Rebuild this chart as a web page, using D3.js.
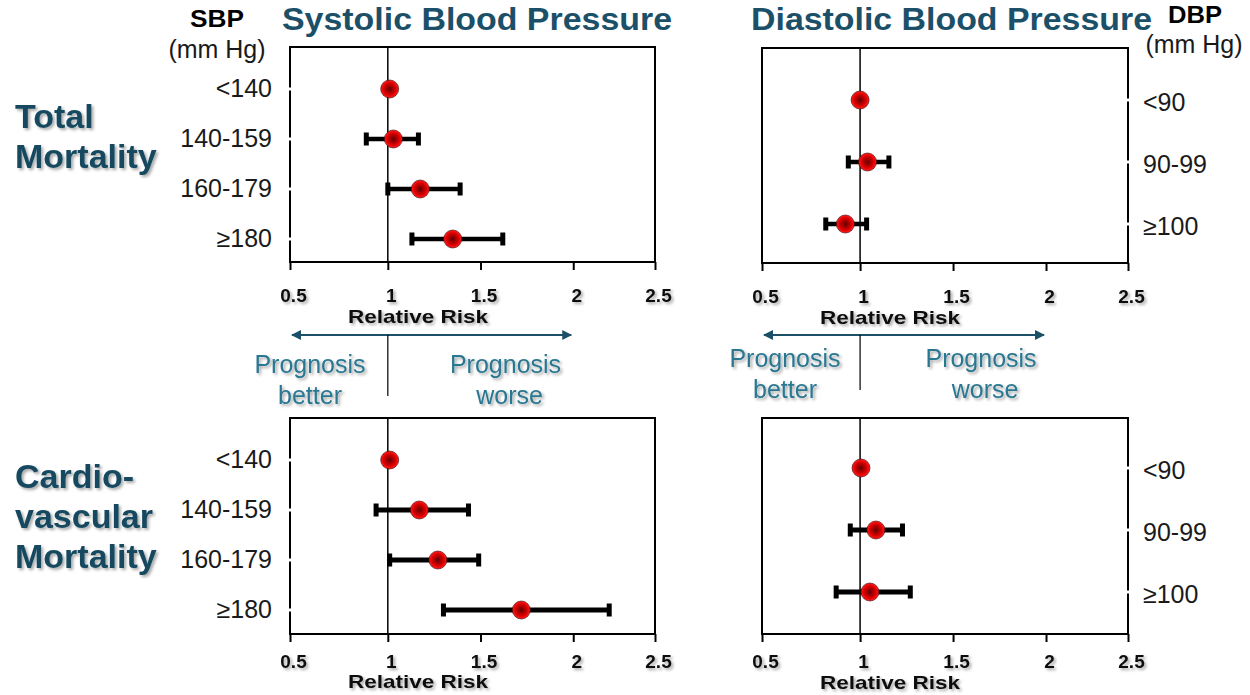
<!DOCTYPE html>
<html>
<head>
<meta charset="utf-8">
<script src="https://cdn.jsdelivr.net/npm/d3@7"></script>
<style>
  body { margin: 0; background: #fff; }
  text { font-family: "Liberation Sans", Arial, sans-serif; }
</style>
</head>
<body>
<div id="chart"></div>
<script>
// categories and tick labels
const sbpGroups = ["<140", "140-159", "160-179", "≥180"];
const dbpGroups = ["<90", "90-99", "≥100"];
const riskTicks = [0.5, 1, 1.5, 2, 2.5];

// relative risk with 95% CI (reference group has no interval)
const sbpTotalRR = [1.01, 1.03, 1.175, 1.35];
const sbpTotalLow = [null, 0.89, 1.0, 1.13];
const sbpTotalHigh = [null, 1.165, 1.39, 1.62];

const dbpTotalRR = [1.0, 1.04, 0.925];
const dbpTotalLow = [null, 0.94, 0.825];
const dbpTotalHigh = [null, 1.155, 1.035];

const sbpCvRR = [1.01, 1.17, 1.27, 1.72];
const sbpCvLow = [null, 0.94, 1.01, 1.30];
const sbpCvHigh = [null, 1.435, 1.49, 2.22];

const dbpCvRR = [1.005, 1.085, 1.053];
const dbpCvLow = [null, 0.95, 0.878];
const dbpCvHigh = [null, 1.228, 1.27];

const width = 1250, height = 695;
const teal = "#1b5068", tealLight = "#2a7791";
// the original axis is not quite evenly spaced
const tickFrac = [0, 0.268, 0.522, 0.776, 1];

const svg = d3.select("#chart").append("svg")
    .attr("width", width)
    .attr("height", height);

const defs = svg.append("defs");
defs.append("filter").attr("id", "shadow")
    .attr("x", "-20%").attr("y", "-30%").attr("width", "140%").attr("height", "170%")
    .append("feDropShadow")
    .attr("dx", 2).attr("dy", 2).attr("stdDeviation", 1.6)
    .attr("flood-color", "#000").attr("flood-opacity", 0.35);

const grad = defs.append("radialGradient").attr("id", "dot");
[["0%", "#5e0000"], ["35%", "#a30000"], ["70%", "#e30000"], ["100%", "#ff2222"]]
    .forEach(s => grad.append("stop").attr("offset", s[0]).attr("stop-color", s[1]));

defs.append("marker").attr("id", "arrow")
    .attr("viewBox", "0 0 10 10").attr("refX", 9).attr("refY", 5)
    .attr("markerWidth", 5).attr("markerHeight", 5)
    .attr("orient", "auto-start-reverse")
    .append("path").attr("d", "M0,0L10,5L0,10Z").attr("fill", teal);

const panels = [
    {x0: 290, y0: 47, w: 365, h: 215, groups: sbpGroups, rr: sbpTotalRR, lo: sbpTotalLow, hi: sbpTotalHigh,
        side: "left", rows: [42, 192], pad: 19, rrY: 323, lw: 4.5},
    {x0: 762, y0: 48, w: 366, h: 215, groups: dbpGroups, rr: dbpTotalRR, lo: dbpTotalLow, hi: dbpTotalHigh,
        side: "right", rows: [52, 176], pad: 19, rrY: 324, lw: 4.5},
    {x0: 290, y0: 418, w: 365, h: 216, groups: sbpGroups, rr: sbpCvRR, lo: sbpCvLow, hi: sbpCvHigh,
        side: "left", rows: [42, 192], pad: 13, rrY: 688, lw: 5},
    {x0: 762, y0: 418, w: 366, h: 216, groups: dbpGroups, rr: dbpCvRR, lo: dbpCvLow, hi: dbpCvHigh,
        side: "right", rows: [50, 174], pad: 13, rrY: 689, lw: 5}
];

const scales = [];

panels.forEach(p => {
    const g = svg.append("g").attr("transform", "translate(" + p.x0 + "," + p.y0 + ")");
    const x = d3.scaleLinear().domain(riskTicks).range(tickFrac.map(f => f * p.w));
    const y = d3.scalePoint().domain(p.groups).range(p.rows);
    scales.push(x);

    // frame
    g.append("rect")
        .attr("width", p.w).attr("height", p.h)
        .attr("fill", "none").attr("stroke", "#000").attr("stroke-width", 2);

    // reference line at RR = 1
    g.append("line")
        .attr("x1", x(1)).attr("x2", x(1))
        .attr("y1", 0).attr("y2", p.h)
        .attr("stroke", "#000").attr("stroke-width", 1.5);

    // x axis
    const axis = g.append("g")
        .attr("transform", "translate(0," + p.h + ")")
        .call(d3.axisBottom(x).tickValues(riskTicks).tickFormat(d => String(d))
            .tickSize(8).tickSizeOuter(0).tickPadding(p.pad));
    axis.select(".domain").remove();
    axis.selectAll(".tick line").attr("stroke-width", 2);
    axis.selectAll(".tick text")
        .attr("font-size", "19px").attr("font-weight", "bold").attr("fill", "#111")
        .attr("dx", 3)
        .attr("filter", "url(#shadow)");

    svg.append("text")
        .attr("x", p.x0 + 128).attr("y", p.rrY)
        .attr("text-anchor", "middle")
        .attr("font-size", "19px").attr("font-weight", "bold").attr("fill", "#111")
        .attr("textLength", 140).attr("lengthAdjust", "spacingAndGlyphs")
        .attr("filter", "url(#shadow)")
        .text("Relative Risk");

    // category labels + little white breaks in the frame
    const edge = p.side === "left" ? 0 : p.w;
    g.selectAll(".brk").data(p.groups).enter().append("rect")
        .attr("x", edge - 3).attr("y", d => y(d) - 1.5)
        .attr("width", 6).attr("height", 3).attr("fill", "#fff");

    g.selectAll(".cat").data(p.groups).enter().append("text")
        .attr("x", p.side === "left" ? -18 : p.w + 15)
        .attr("y", d => y(d) + (p.side === "left" ? -1 : 2))
        .attr("dominant-baseline", "central")
        .attr("text-anchor", p.side === "left" ? "end" : "start")
        .attr("font-size", "25px").attr("fill", "#1a1a1a")
        .text(d => d);

    // confidence intervals
    const ci = p.groups.map((d, i) => ({g: d, lo: p.lo[i], hi: p.hi[i], rr: p.rr[i]}));
    const bars = g.selectAll(".ci").data(ci.filter(d => d.lo !== null)).enter().append("g");
    bars.append("line")
        .attr("x1", d => x(d.lo)).attr("x2", d => x(d.hi))
        .attr("y1", d => y(d.g)).attr("y2", d => y(d.g))
        .attr("stroke", "#000").attr("stroke-width", p.lw);
    bars.selectAll("rect").data(d => [[d.lo, d.g], [d.hi, d.g]]).enter().append("rect")
        .attr("x", d => x(d[0]) - 2.5).attr("y", d => y(d[1]) - 6.5)
        .attr("width", 5).attr("height", 13).attr("fill", "#000");

    // point estimates
    g.selectAll(".pt").data(ci).enter().append("circle")
        .attr("cx", d => x(d.rr)).attr("cy", d => y(d.g))
        .attr("r", 9)
        .attr("fill", "url(#dot)")
        .attr("stroke", "#3a0000").attr("stroke-width", 0.6);
});

// prognosis arrows under the top panels
const progY = [[373, 404], [367, 398]];
[0, 1].forEach(k => {
    const p = panels[k], x = scales[k];
    svg.append("line")
        .attr("x1", p.x0 + x(0.5) + 2).attr("x2", p.x0 + x(2) - 2)
        .attr("y1", 335).attr("y2", 335)
        .attr("stroke", teal).attr("stroke-width", 2)
        .attr("marker-start", "url(#arrow)").attr("marker-end", "url(#arrow)");
    svg.append("line")
        .attr("x1", p.x0 + x(1)).attr("x2", p.x0 + x(1))
        .attr("y1", 335).attr("y2", progY[k][1] - 8)
        .attr("stroke", "#000").attr("stroke-width", 1.2);

    const better = p.x0 + x(0.5) + (k === 0 ? 20 : 23);
    const worse = p.x0 + x(1.5) + (k === 0 ? 25 : 28);
    [["Prognosis", better, 0], ["better", better, 1], ["Prognosis", worse, 0], ["worse", worse + 4, 1]]
        .forEach(t => {
            svg.append("text")
                .attr("x", t[1]).attr("y", progY[k][t[2]])
                .attr("text-anchor", "middle")
                .attr("font-size", "25px").attr("fill", tealLight)
                .attr("filter", "url(#shadow)")
                .text(t[0]);
        });
});

// titles
svg.append("text")
    .attr("x", 282).attr("y", 30)
    .attr("font-size", "31px").attr("font-weight", "bold").attr("fill", teal)
    .attr("textLength", 390).attr("lengthAdjust", "spacingAndGlyphs")
    .text("Systolic Blood Pressure");
svg.append("text")
    .attr("x", 751).attr("y", 30)
    .attr("font-size", "31px").attr("font-weight", "bold").attr("fill", teal)
    .attr("textLength", 401).attr("lengthAdjust", "spacingAndGlyphs")
    .text("Diastolic Blood Pressure");

// unit headers
[["SBP", 217, 27, 54], ["DBP", 1195, 23, 54]].forEach(t => {
    svg.append("text")
        .attr("x", t[1]).attr("y", t[2])
        .attr("text-anchor", "middle")
        .attr("font-size", "24px").attr("font-weight", "bold").attr("fill", "#000")
        .attr("textLength", t[3]).attr("lengthAdjust", "spacingAndGlyphs")
        .text(t[0]);
});
[[217, 58], [1194, 53]].forEach(t => {
    svg.append("text")
        .attr("x", t[0]).attr("y", t[1])
        .attr("text-anchor", "middle")
        .attr("font-size", "25px").attr("fill", "#1a1a1a")
        .text("(mm Hg)");
});

// row group headings
[["Total", 128], ["Mortality", 168], ["Cardio-", 488], ["vascular", 528], ["Mortality", 568]].forEach(t => {
    svg.append("text")
        .attr("x", 15).attr("y", t[1])
        .attr("font-size", "34px").attr("font-weight", "bold").attr("fill", "#174a60")
        .attr("filter", "url(#shadow)")
        .text(t[0]);
});
</script>
</body>
</html>
